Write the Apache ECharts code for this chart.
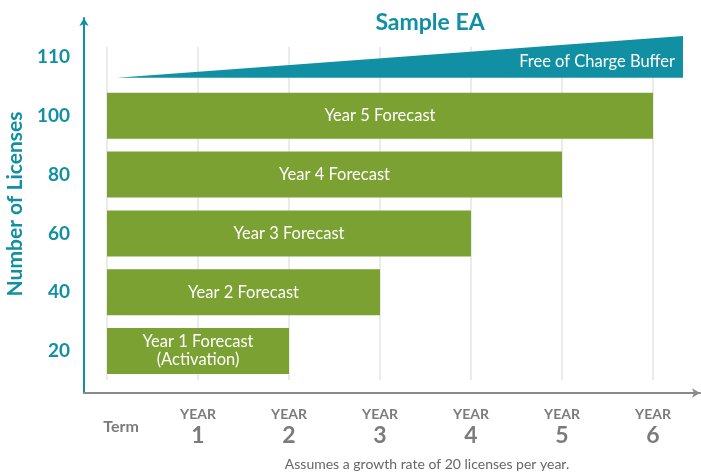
<!DOCTYPE html>
<html>
<head>
<meta charset="utf-8">
<script src="https://cdn.jsdelivr.net/npm/echarts@6/dist/echarts.min.js"></script>
<style>html,body{margin:0;padding:0;background:#fff;}#c{width:701px;height:472px;}</style>
</head>
<body>
<div id="c"></div>
<script>
const yCategories = ['20', '40', '60', '80', '100', '110'];
const forecastLabels = ['Year 1 Forecast\n(Activation)', 'Year 2 Forecast', 'Year 3 Forecast', 'Year 4 Forecast', 'Year 5 Forecast'];
const forecastEnds = [2, 3, 4, 5, 6];
const bufferLabel = 'Free of Charge Buffer';
const bufferStart = 0.11;
const bufferEnd = 6.33;
const bufferCategoryIndex = 5;
const termTicks = ['Term', '1', '2', '3', '4', '5', '6'];

const TEAL = '#1190a3';
const GREEN = '#7aa131';
const GRAY = '#7b7b7b';
const FONT = 'Lato, "Open Sans", sans-serif';

const barData = yCategories.map((c, i) => i < forecastEnds.length ? { value: forecastEnds[i], label: { formatter: forecastLabels[i] } } : '-');

const chart = echarts.init(document.getElementById('c'));
chart.setOption({
  animation: false,
  textStyle: { fontFamily: FONT },
  title: [
    { text: 'Sample EA', left: 425, top: 6, textAlign: 'center',
      textStyle: { color: TEAL, fontSize: 23, fontWeight: 'bold', fontFamily: FONT } },
    { text: 'Assumes a growth rate of 20 licenses per year.', left: 422, top: 452, textAlign: 'center',
      textStyle: { color: '#666', fontSize: 14, fontWeight: 'normal', fontFamily: FONT } }
  ],
  grid: [
    { left: 107, right: 48, top: 27.5, bottom: 91.5, outerBoundsMode: 'none', containLabel: false },
    { left: 107, right: 48, top: 47, bottom: 92, outerBoundsMode: 'none', containLabel: false },
    { left: 84, right: 1, top: 18, bottom: 79, outerBoundsMode: 'none', containLabel: false }
  ],
  xAxis: [
    { gridIndex: 0, type: 'value', min: 0, max: 6, show: false },
    { gridIndex: 1, type: 'value', min: 0, max: 6, interval: 1,
      axisLine: { show: false }, axisTick: { show: false },
      splitLine: { show: true, lineStyle: { color: '#e4e4e4', width: 1.5 } },
      axisLabel: {
        margin: 25,
        formatter: v => v === 0 ? '{term|' + termTicks[0] + '}' : '{y|YEAR}\n{n|' + termTicks[v] + '}',
        rich: {
          term: { fontSize: 16, fontWeight: 'bold', color: GRAY, fontFamily: FONT, padding: [14, 0, 0, 28] },
          y: { fontSize: 14, fontWeight: 'bold', color: GRAY, fontFamily: FONT, lineHeight: 18 },
          n: { fontSize: 23, fontWeight: 'bold', color: GRAY, fontFamily: FONT, lineHeight: 26 }
        }
      }
    },
    { gridIndex: 2, type: 'value', min: 0, max: 1, axisLabel: { show: false }, axisTick: { show: false }, splitLine: { show: false },
      axisLine: { show: true, onZero: false, symbol: ['none', 'arrow'], symbolSize: [7, 8], lineStyle: { color: '#8a8a8a', width: 2 } } }
  ],
  yAxis: [
    { gridIndex: 0, type: 'category', data: yCategories,
      axisLine: { show: false }, axisTick: { show: false }, splitLine: { show: false },
      axisLabel: { margin: 37, color: TEAL, fontSize: 19, fontWeight: 'bold', fontFamily: FONT },
      name: 'Number of Licenses', nameLocation: 'middle', nameRotate: 90, nameGap: 80,
      nameTextStyle: { color: TEAL, fontSize: 21, fontWeight: 'bold', fontFamily: FONT } },
    { gridIndex: 1, type: 'value', min: 0, max: 1, show: false },
    { gridIndex: 2, type: 'value', min: 0, max: 1, axisLabel: { show: false }, axisTick: { show: false }, splitLine: { show: false },
      axisLine: { show: true, onZero: false, symbol: ['none', 'arrow'], symbolSize: [7, 8], lineStyle: { color: TEAL, width: 2 } } }
  ],
  series: [
    { type: 'bar', xAxisIndex: 0, yAxisIndex: 0, data: barData, barWidth: 46,
      itemStyle: { color: GREEN },
      label: { show: true, position: 'inside', color: '#fff', fontSize: 16.5, fontFamily: FONT, lineHeight: 18 } },
    { type: 'custom', xAxisIndex: 0, yAxisIndex: 0, clip: false,
      data: [[bufferStart, bufferEnd, bufferCategoryIndex]],
      encode: { x: [0, 1], y: 2 },
      renderItem: function (params, api) {
        const p0 = api.coord([api.value(0), api.value(2)]);
        const p1 = api.coord([api.value(1), api.value(2)]);
        const h = api.size([0, 1])[1] * 0.355;
        const cy = p0[1];
        return {
          type: 'group',
          children: [
            { type: 'polygon', shape: { points: [[p0[0], cy + h], [p1[0], cy - h], [p1[0], cy + h]] }, style: { fill: TEAL } },
            { type: 'text', x: p1[0] - 8, y: cy + 5, style: { text: bufferLabel, fill: '#fff', fontSize: 16.5, fontFamily: FONT, align: 'right', verticalAlign: 'middle' } }
          ]
        };
      }
    }
  ]
});
</script>
</body>
</html>
